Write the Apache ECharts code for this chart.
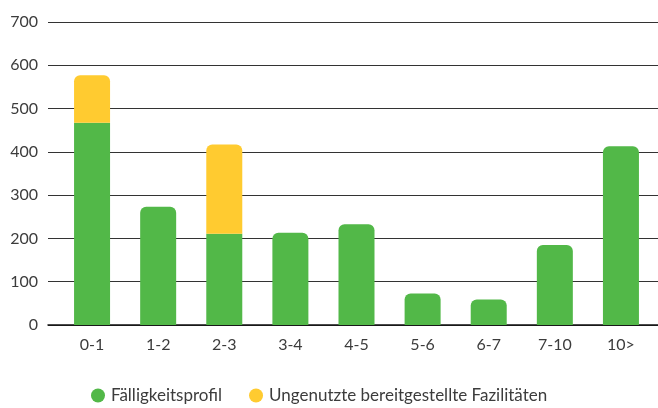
<!DOCTYPE html>
<html>
<head>
<meta charset="utf-8">
<script src="https://cdn.jsdelivr.net/npm/echarts@6/dist/echarts.min.js"></script>
<style>
  html, body { margin: 0; padding: 0; background: #fff; }
  #chart { width: 658px; height: 408px; }
</style>
</head>
<body>
<div id="chart"></div>
<script>
// Laufzeitbänder (Jahre)
const categories = ['0-1', '1-2', '2-3', '3-4', '4-5', '5-6', '6-7', '7-10', '10>'];
// Fälligkeitsprofil
const maturity = [467, 273, 211, 213, 233, 73, 59, 185, 413];
// Ungenutzte bereitgestellte Fazilitäten (nur wo vorhanden)
const unusedFacilities = [110, null, 206, null, null, null, null, null, null];
const yTicks = { min: 0, max: 700, interval: 100 };

const GREEN = '#52b848';
const YELLOW = '#ffcb30';
const TEXT = '#3c3c3c';
const FONT = 'Lato';
const R = 6;

// green bars are rounded only where nothing is stacked on top of them
const greenData = maturity.map((v, i) => ({
  value: v,
  itemStyle: { borderRadius: unusedFacilities[i] == null ? [R, R, 0, 0] : 0 }
}));

const chart = echarts.init(document.getElementById('chart'));
chart.setOption({
  animation: false,
  textStyle: { fontFamily: FONT },
  grid: [
    { left: 48, right: 0, top: 22, height: 303 },
    { left: 59, right: 4, top: 22, height: 303 }
  ],
  xAxis: [
    {
      gridIndex: 0, type: 'category', data: categories,
      axisLine: { show: true, lineStyle: { color: '#111', width: 1.5 } },
      axisTick: { show: false }, axisLabel: { show: false }
    },
    {
      gridIndex: 1, type: 'category', data: categories,
      axisLine: { show: false }, axisTick: { show: false },
      axisLabel: { color: TEXT, fontSize: 16, fontFamily: FONT, margin: 12 }
    }
  ],
  yAxis: [
    {
      gridIndex: 0, type: 'value', min: yTicks.min, max: yTicks.max, interval: yTicks.interval,
      axisLine: { show: false }, axisTick: { show: false },
      axisLabel: { color: TEXT, fontSize: 16, fontFamily: FONT, margin: 10 },
      splitLine: { show: true, lineStyle: { color: '#333', width: 1.2 } }
    },
    {
      gridIndex: 1, type: 'value', min: yTicks.min, max: yTicks.max, interval: yTicks.interval,
      show: false, splitLine: { show: false }
    }
  ],
  legend: {
    bottom: 4, left: 91, padding: 0,
    icon: 'circle', itemWidth: 14, itemHeight: 14, itemGap: 27,
    textStyle: { color: TEXT, fontSize: 17, fontFamily: FONT, padding: [0, 0, 0, 1] },
    data: ['Fälligkeitsprofil', 'Ungenutzte bereitgestellte Fazilitäten']
  },
  series: [
    {
      name: 'Fälligkeitsprofil', type: 'bar', stack: 'total',
      xAxisIndex: 1, yAxisIndex: 1, barWidth: 36,
      itemStyle: { color: GREEN }, data: greenData
    },
    {
      name: 'Ungenutzte bereitgestellte Fazilitäten', type: 'bar', stack: 'total',
      xAxisIndex: 1, yAxisIndex: 1, barWidth: 36,
      itemStyle: { color: YELLOW, borderRadius: [R, R, 0, 0] }, data: unusedFacilities
    }
  ]
});
</script>
</body>
</html>
